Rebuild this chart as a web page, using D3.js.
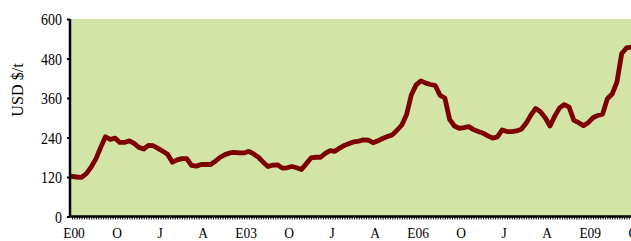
<!DOCTYPE html>
<html><head><meta charset="utf-8">
<script src="https://cdn.jsdelivr.net/npm/d3@7"></script>
<style>body{margin:0;background:#fff}svg{display:block}</style>
</head><body>
<script>
// Monthly prices, USD $/t, starting Jan 2000
const startYear = 2000;
const prices = [
122,120,119,130,150,175,210,242,234,238,225,225,
230,222,210,205,216,215,207,198,189,165,172,176,
176,155,153,158,158,158,168,180,188,193,195,193,
193,198,190,180,165,152,156,157,147,148,152,148,
143,160,178,180,180,192,200,198,208,216,222,227,
229,233,232,224,230,237,243,248,262,278,310,370,
400,412,405,401,398,368,360,295,275,268,270,273,
264,258,253,245,238,242,263,258,258,260,265,283,
308,328,318,300,275,305,330,340,332,292,285,276,
285,300,307,311,358,372,408,495,512,515,515];
const yTicks = [0,120,240,360,480,600];
const xLabels = ["E00","O","J","A","E03","O","J","A","E06","O","J","A","E09","O"];
const labelStepMonths = 9;
const yTitle = "USD $/t";

const W = 631, H = 241;
const mLeft = 70, mTop = 19, mBottom = 216.5;
const FONT = "Liberation Serif, serif";
const svg = d3.select("body").append("svg").attr("width", W).attr("height", H);

function condense(sel, k) {
  sel.each(function() {
    const w = this.getComputedTextLength();
    d3.select(this).attr("textLength", w * k).attr("lengthAdjust", "spacingAndGlyphs");
  });
}

const x = d3.scaleLinear().domain([0, 1]).range([72, 72 + 4.78]);
const y = d3.scaleLinear().domain([0, 600]).range([mBottom, mTop]);

svg.append("rect").attr("x", mLeft).attr("y", mTop).attr("width", W - mLeft).attr("height", mBottom - mTop)
  .attr("fill", "#d2e4a6");

const line = d3.line().x((d, i) => x(i)).y(d => y(d)).curve(d3.curveLinear);
svg.append("path").datum(prices).attr("d", line)
  .attr("fill", "none").attr("stroke", "#7d0000").attr("stroke-width", 4.8)
  .attr("stroke-linejoin", "round").attr("stroke-linecap", "square");

// Y axis
const yAxis = d3.axisLeft(y).tickValues(yTicks).tickSize(3).tickPadding(5);
const gy = svg.append("g").attr("transform", `translate(${mLeft},0)`).call(yAxis);
gy.select(".domain").attr("stroke", "#000").attr("stroke-width", 2.5).attr("d", `M0,${mTop}V${mBottom}`);
gy.selectAll(".tick line").attr("stroke", "#000").attr("stroke-width", 2);
gy.selectAll(".tick text").attr("font-family", FONT).attr("font-size", 16).attr("fill", "#000")
  .attr("dy", "0.36em").call(condense, 0.87);

// X axis: dense minor ticks (half-months)
const nHalf = Math.ceil((W - mLeft) / (4.78 / 2)) + 2;
const minor = d3.range(0, nHalf).map(i => i / 2);
const xAxisMinor = d3.axisBottom(x).tickValues(minor).tickSize(3).tickFormat("");
const gx = svg.append("g").attr("transform", `translate(0,${mBottom})`).call(xAxisMinor);
gx.select(".domain").remove();
gx.selectAll(".tick line").attr("stroke", "#000").attr("stroke-width", 1);
svg.append("line").attr("x1", mLeft - 1).attr("x2", W).attr("y1", mBottom).attr("y2", mBottom)
  .attr("stroke", "#000").attr("stroke-width", 2.5);

const labelMonths = xLabels.map((l, i) => i * labelStepMonths);
const xAxisLab = d3.axisBottom(x).tickValues(labelMonths).tickSize(0).tickPadding(0)
  .tickFormat((d, i) => xLabels[i]);
const gl = svg.append("g").attr("transform", `translate(1.5,${mBottom})`).call(xAxisLab);
gl.select(".domain").remove();
gl.selectAll(".tick text").attr("font-family", FONT).attr("font-size", 15.5)
  .attr("fill", "#000").attr("dy", null).attr("y", 21.5).call(condense, 0.87);

svg.append("text").attr("transform", `translate(23,90) rotate(-90)`).attr("text-anchor", "middle")
  .attr("font-family", FONT).attr("font-size", 17).text(yTitle).call(condense, 0.95);
</script>
</body></html>
